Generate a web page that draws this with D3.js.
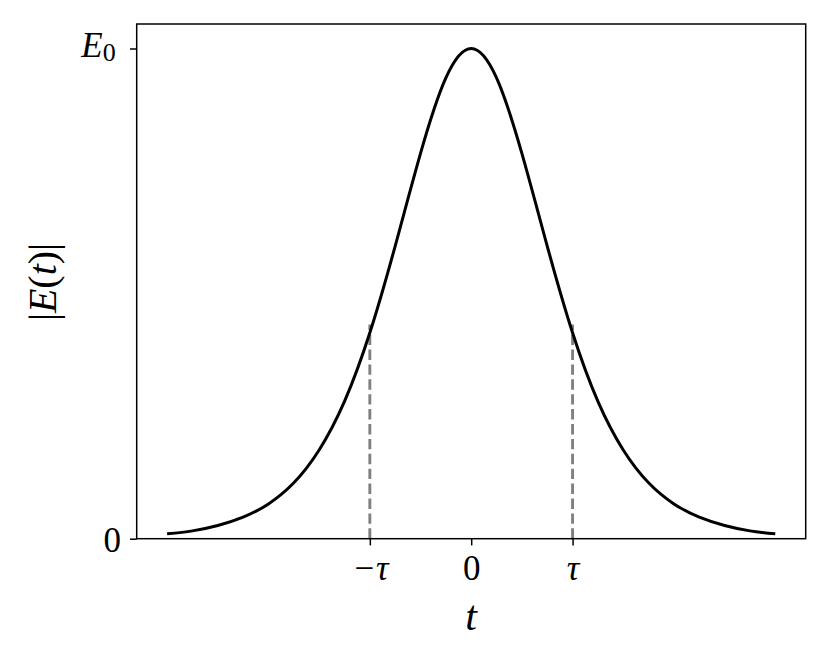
<!DOCTYPE html>
<html>
<head>
<meta charset="utf-8">
<script src="https://cdn.jsdelivr.net/npm/d3@7"></script>
<style>
  html, body { margin: 0; padding: 0; background: #fff; }
  svg { display: block; font-family: "Liberation Serif", "DejaVu Serif", serif; }
</style>
</head>
<body>
<div id="chart"></div>
<script>
'use strict';

// Pulse envelope (t in units of tau, |E| in units of E0)
var pulseT = [-3, -2.75, -2.5, -2.25, -2, -1.75, -1.5, -1.25, -1, -0.75, -0.5, -0.25,
	0, 0.25, 0.5, 0.75, 1, 1.25, 1.5, 1.75, 2, 2.25, 2.5, 2.75, 3];
var pulseE = [0.010, 0.016, 0.027, 0.044, 0.071, 0.114, 0.181, 0.280, 0.420, 0.597, 0.786, 0.940,
	1.000, 0.940, 0.786, 0.597, 0.420, 0.280, 0.181, 0.114, 0.071, 0.044, 0.027, 0.016, 0.010];

// Dashed markers at -tau and +tau
var markerT = [-1, 1];
var markerTop = 0.437;

// Tick positions and labels
var xTicks = [-1, 0, 1];
var xTickLabels = ['\u2212\u03c4', '0', '\u03c4'];
var yTicks = [0, 1];

var svgWidth = 830, svgHeight = 664;
var margin = {top: 24, right: 24.3, bottom: 125.3, left: 136.7};
var width = svgWidth - margin.left - margin.right;
var height = svgHeight - margin.top - margin.bottom;

var svg = d3.select('#chart').append('svg')
	.attr('width', svgWidth)
	.attr('height', svgHeight);

var g = svg.append('g')
	.attr('transform', `translate(${margin.left},${margin.top})`);

var x = d3.scaleLinear().domain([-3.3, 3.3]).range([0, width]);
var y = d3.scaleLinear().domain([0, 1.05]).range([height, 0]);

// Dashed markers go under the curve
g.selectAll('.marker')
	.data(markerT)
	.enter().append('line')
	.attr('class', 'marker')
	.attr('x1', function(d) { return x(d); })
	.attr('x2', function(d) { return x(d); })
	.attr('y1', y(0))
	.attr('y2', y(markerTop))
	.attr('stroke', '#808080')
	.attr('stroke-width', 2.9)
	.attr('stroke-dasharray', '10.4,4.5');

var line = d3.line()
	.x(function(d, i) { return x(pulseT[i]); })
	.y(function(d) { return y(d); })
	.curve(d3.curveNatural);

g.append('path')
	.datum(pulseE)
	.attr('fill', 'none')
	.attr('stroke', '#000')
	.attr('stroke-width', 3)
	.attr('stroke-linejoin', 'round')
	.attr('d', line);

// Axes
var xAxis = g.append('g')
	.attr('transform', `translate(0,${height})`)
	.call(d3.axisBottom(x)
		.tickValues(xTicks)
		.tickSize(6.7)
		.tickPadding(9.7)
		.tickSizeOuter(0)
		.tickFormat(function(d, i) { return xTickLabels[i]; }));

var yAxis = g.append('g')
	.call(d3.axisLeft(y)
		.tickValues(yTicks)
		.tickSize(6.7)
		.tickPadding(9)
		.tickSizeOuter(0)
		.tickFormat(function() { return ''; }));

[xAxis, yAxis].forEach(function(ax) {
	ax.select('.domain').remove();
	ax.selectAll('.tick line').attr('stroke', '#000').attr('stroke-width', 1.5);
	ax.selectAll('.tick text')
		.attr('fill', '#000')
		.style('font-family', '"Liberation Serif", serif')
		.style('font-size', '35px');
});
xAxis.selectAll('.tick text').attr('font-style', 'italic');
xAxis.selectAll('.tick text').filter(function(d) { return d === 0; }).attr('font-style', 'normal');

// y tick labels: "0" and italic E with subscript 0
yAxis.selectAll('.tick text').each(function(d) {
	var t = d3.select(this);
	if (d === 0) {
		t.attr('dy', '0.37em').attr('x', -15.7).text('0');
	} else {
		t.attr('dy', '0.22em').attr('x', -21);
		t.append('tspan').attr('font-style', 'italic').style('font-size', '35px').text('E');
		t.append('tspan').attr('dy', '0.15em').style('font-size', '26px').text('0');
	}
});

// Frame
g.append('rect')
	.attr('width', width)
	.attr('height', height)
	.attr('fill', 'none')
	.attr('stroke', '#000')
	.attr('stroke-width', 1.5);

// Axis labels
g.append('text')
	.attr('x', x(0))
	.attr('y', 630 - margin.top)
	.attr('text-anchor', 'middle')
	.attr('font-style', 'italic')
	.style('font-size', '42px')
	.text('t');

var yLabel = svg.append('text')
	.attr('transform', 'translate(56,282) rotate(-90)')
	.attr('text-anchor', 'middle')
	.style('font-size', '40px');
yLabel.append('tspan').text('|');
yLabel.append('tspan').attr('font-style', 'italic').text('E');
yLabel.append('tspan').text('(');
yLabel.append('tspan').attr('font-style', 'italic').text('t');
yLabel.append('tspan').text(')|');
</script>
</body>
</html>
